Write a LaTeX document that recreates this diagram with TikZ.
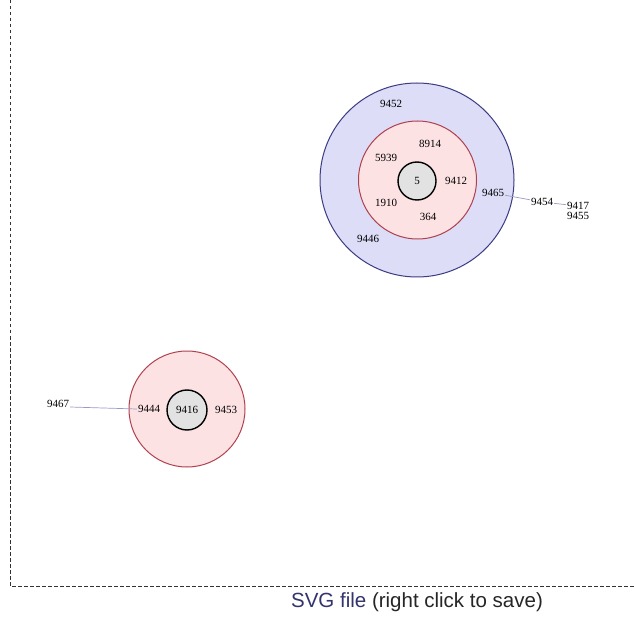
\documentclass[tikz,border=0pt]{standalone}
\usepackage{fontspec}
\setmainfont{Liberation Serif}
\newfontfamily\captionfont{Liberation Sans}
\definecolor{ringblue}{HTML}{3C3C82}
\definecolor{fillblue}{HTML}{DDDDF8}
\definecolor{ringred}{HTML}{B0404E}
\definecolor{fillred}{HTML}{FDE2E3}
\definecolor{corefill}{HTML}{E2E2E2}
\definecolor{linkcol}{HTML}{9A9AC8}
\definecolor{capblue}{HTML}{33336E}
\definecolor{axisgrey}{HTML}{333333}
\begin{document}
\begin{tikzpicture}[x=1pt,y=-1pt,
  lbl/.style={inner sep=1pt,font=\fontsize{11}{12}\selectfont},
  outerclu/.style={circle,draw=ringblue,fill=fillblue,line width=1pt,inner sep=0pt},
  midclu/.style={circle,draw=ringred,fill=fillred,line width=1pt,inner sep=0pt},
  coreclu/.style={circle,draw=black,fill=corefill,line width=1.4pt,inner sep=0pt},
  link/.style={draw=linkcol,line width=0.7pt},
  axis/.style={draw=axisgrey,dash pattern=on 3.5pt off 2.5pt,line width=1pt}]
\useasboundingbox[fill=white] (0,0) rectangle (634,617);
% frame axes
\coordinate (top) at (10,0);
\coordinate (corner) at (10,586);
\coordinate (right) at (634,586);
\draw[axis] (top) -- (corner) -- (right);
% upper cluster
\node[outerclu,minimum size=194pt] (c1) at (417,180) {};
\node[midclu,minimum size=118pt] (c2) at (417.5,180) {};
\node[coreclu,minimum size=38pt] (c3) at (417,181) {};
\node[lbl] (n5) at (417,181) {5};
\node[lbl] (n9452) at (391,104) {9452};
\node[lbl] (n8914) at (430,144) {8914};
\node[lbl] (n5939) at (386,158) {5939};
\node[lbl] (n9412) at (456,181) {9412};
\node[lbl] (n1910) at (386,203) {1910};
\node[lbl] (n364) at (428,217) {364};
\node[lbl] (n9446) at (368,239) {9446};
\node[lbl] (n9465) at (493,193) {9465};
\node[lbl] (n9454) at (542,202) {9454};
\node[lbl] (n9417) at (578,206) {9417};
\node[lbl] (n9455) at (578,216) {9455};
\draw[link] (n9465) -- (n9454);
\draw[link] (n9454) -- (n9417);
% lower cluster
\node[midclu,minimum size=116pt] (d1) at (187,409) {};
\node[coreclu,minimum size=40pt] (d2) at (187,410) {};
\node[lbl] (n9416) at (187,410) {9416};
\node[lbl] (n9444) at (149,409) {9444};
\node[lbl] (n9453) at (226,410) {9453};
\node[lbl] (n9467) at (58,404) {9467};
\coordinate (e1) at ([yshift=-3pt]n9467.east);
\draw[link] (e1) -- (n9444.west);
% caption
\node[font=\captionfont\fontsize{20.5}{23}\selectfont,text=black!85,inner sep=0pt] (cap) at (417,602)
  {\textcolor{capblue}{SVG file} (right click to save)};
\end{tikzpicture}
\end{document}
